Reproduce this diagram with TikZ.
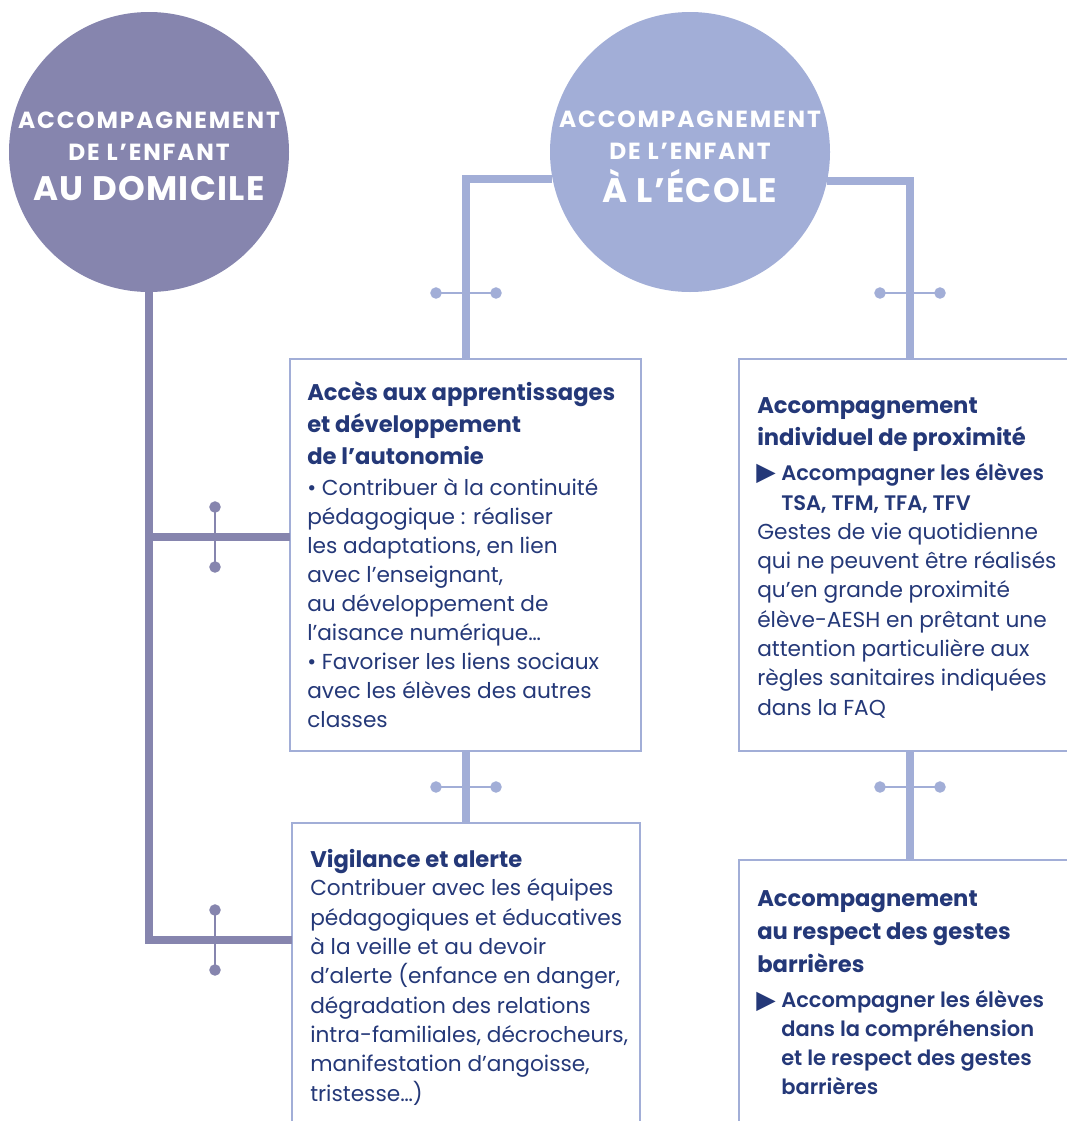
\documentclass[tikz,border=0pt]{standalone}
\usepackage{fontspec}
\setmainfont{Poppins}
\newfontfamily\semifont{Poppins SemiBold}
\newfontfamily\symfont{DejaVu Sans}
\usetikzlibrary{arrows.meta,positioning}

\definecolor{homecol}{RGB}{134,133,174}
\definecolor{schoolcol}{RGB}{162,174,215}
\definecolor{inkcol}{RGB}{36,56,120}

\tikzset{
  bubble/.style={circle, minimum size=210pt, inner sep=0pt},
  bubbletxt/.style={inner sep=0pt, text=white, align=center,
    font=\bfseries\fontsize{17.5}{24}\selectfont\addfontfeature{LetterSpace=8}},
  panel/.style={draw=schoolcol, line width=2pt, inner sep=0pt, outer sep=0pt, anchor=north west},
  headtxt/.style={anchor=base west, inner sep=0pt, text=inkcol, align=left,
    font=\bfseries\fontsize{17}{24}\selectfont},
  pointtxt/.style={anchor=base west, inner sep=0pt, text=inkcol, align=left,
    font=\semifont\fontsize{15.75}{22.5}\selectfont},
  bodytxt/.style={anchor=base west, inner sep=0pt, text=inkcol, align=left,
    font=\fontsize{16.25}{21.75}\selectfont},
  arrowtxt/.style={anchor=base west, inner sep=0pt, text=inkcol, font=\symfont\fontsize{19}{19}\selectfont},
  homeline/.style={draw=homecol, line width=6pt},
  schoolline/.style={draw=schoolcol, line width=6pt},
  knot/.style={line width=2.2pt, {Circle[length=8.5pt]}-{Circle[length=8.5pt]},
    shorten <=-4.25pt, shorten >=-4.25pt}
}

\begin{document}
\begin{tikzpicture}[x=0.75pt, y=-0.75pt]
\useasboundingbox (0,0) rectangle (1067,1121);
\clip (0,0) rectangle (1067,1121);

% the two circles
\node (domicile) at (149,152) [bubble, fill=homecol] {};
\node (ecole) at (690,152) [bubble, fill=schoolcol] {};
\node (domicileTxt) at ([yshift=-3.5pt]domicile.center) [bubbletxt] {ACCOMPAGNEMENT\\DE L’ENFANT\\[6pt]{\fontsize{25.5}{30}\selectfont\addfontfeature{LetterSpace=4}AU DOMICILE}};
\node (ecoleTxt) at ([yshift=-3.5pt]ecole.center) [bubbletxt] {ACCOMPAGNEMENT\\DE L’ENFANT\\[6pt]{\fontsize{25.5}{30}\selectfont\addfontfeature{LetterSpace=4}À L’ÉCOLE}};

% boxes
\node (acces) at (290,359) [panel, minimum width=263.25pt, minimum height=294pt] {};
\node (proxim) at (739,359) [panel, minimum width=256.5pt, minimum height=294pt] {};
\node (vigil) at (292,823) [panel, minimum width=261pt, minimum height=283pt] {};
\node (gestes) at (739,860) [panel, minimum width=256.5pt, minimum height=255pt] {};

% connectors
\coordinate (homefork) at (149,537);
\coordinate (homecorner) at (149,940);
\draw [homeline] (domicile.south) -- (homecorner) -- (homecorner -| vigil.west);
\draw [homeline] (homefork) -- (homefork -| acces.west);
\draw [schoolline] (acces.north) |- (ecole.191.5);
\draw [schoolline] (ecole.348.5) -| (proxim.north);
\draw [schoolline] (acces.south) -- (acces.south |- vigil.north);
\draw [schoolline] (proxim.south) -- (gestes.north);

\coordinate (hknot1) at (215,537);
\coordinate (hknot2) at (215,940);
\coordinate (sknot1) at (466,293);
\coordinate (sknot2) at (910,293);
\coordinate (sknot3) at (466,787);
\coordinate (sknot4) at (910,787);
\foreach \k in {hknot1,hknot2}
  \draw [knot, homecol] ([yshift=-22.5pt]\k) -- ([yshift=22.5pt]\k);
\foreach \k in {sknot1,sknot2,sknot3,sknot4}
  \draw [knot, schoolcol] ([xshift=-22.5pt]\k) -- ([xshift=22.5pt]\k);

% texts (placed by the baseline of their last line)
\node (accesHead) at (307,464) [headtxt] {Accès aux apprentissages\\et développement\\de l’autonomie};
\node (accesBody) at (307,727) [bodytxt] {• Contribuer à la continuité\\pédagogique : réaliser\\les adaptations, en lien\\avec l’enseignant,\\au développement de\\l’aisance numérique…\\• Favoriser les liens sociaux\\avec les élèves des autres\\classes};

\node (proximHead) at (757,445) [headtxt] {Accompagnement\\individuel de proximité};
\node (proximArrow) at (756,480) [arrowtxt] {▶};
\node (proximPoint) at (781,510) [pointtxt] {Accompagner les élèves\\TSA, TFM, TFA, TFV};
\node (proximBody) at (757,715) [bodytxt, font=\fontsize{16.25}{22}\selectfont] {Gestes de vie quotidienne\\qui ne peuvent être réalisés\\qu’en grande proximité\\élève-AESH en prêtant une\\attention particulière aux\\règles sanitaires indiquées\\dans la FAQ};

\node (vigilHead) at (310,867) [headtxt] {Vigilance et alerte};
\node (vigilBody) at (310,1101) [bodytxt, font=\fontsize{16.25}{22}\selectfont] {Contribuer avec les équipes\\pédagogiques et éducatives\\à la veille et au devoir\\d’alerte (enfance en danger,\\dégradation des relations\\intra-familiales, décrocheurs,\\manifestation d’angoisse,\\tristesse…)};

\node (gestesHead) at (757,972) [headtxt, font=\bfseries\fontsize{17}{24.4}\selectfont] {Accompagnement\\au respect des gestes\\barrières};
\node (gestesArrow) at (756,1008) [arrowtxt] {▶};
\node (gestesPoint) at (781,1094) [pointtxt, font=\semifont\fontsize{15.75}{21.75}\selectfont] {Accompagner les élèves\\dans la compréhension\\et le respect des gestes\\barrières};
\end{tikzpicture}
\end{document}
